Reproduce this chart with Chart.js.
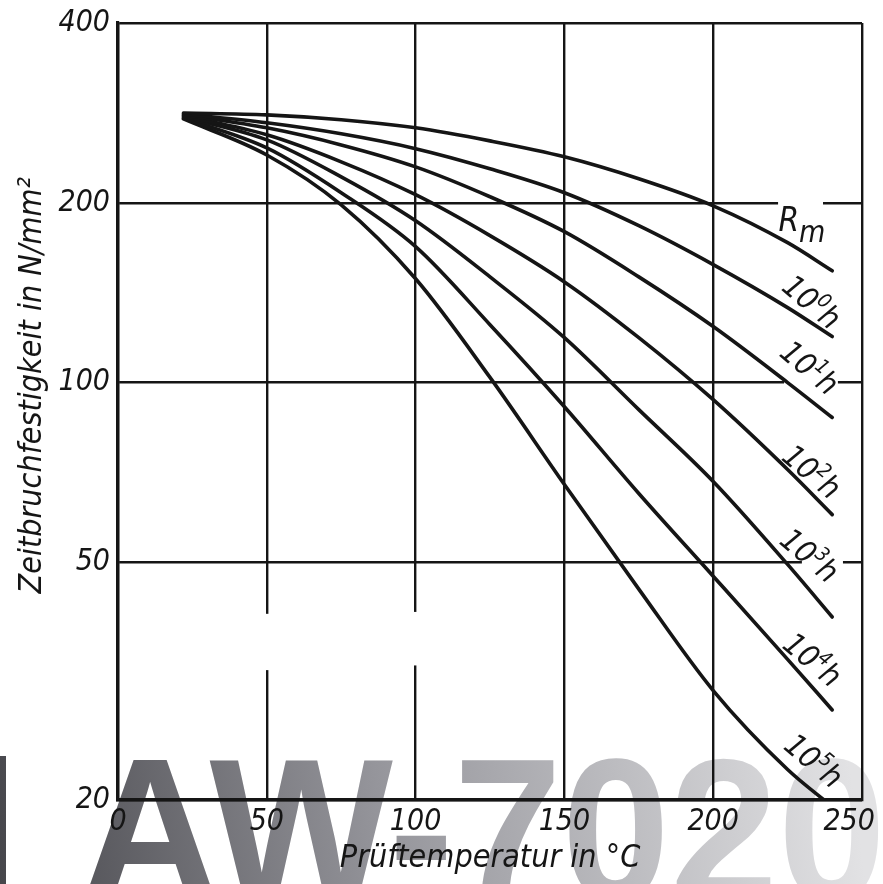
<!DOCTYPE html>
<html>
<head>
<meta charset="utf-8">
<script src="https://cdn.jsdelivr.net/npm/chart.js@4/dist/chart.umd.min.js"></script>
<style>
html,body{margin:0;padding:0;background:#fff;}
canvas{display:block;}
</style>
</head>
<body>
<canvas id="c" width="883" height="884"></canvas>
<script>
// ---- data ----
const temps = [22, 50, 75, 100, 125, 150, 175, 200, 225, 240];
const rm    = [282.8, 280.7, 275.5, 267.0, 253.9, 238.8, 219.4, 197.7, 171.5, 153.9];
const h0    = [281.7, 272.2, 260.9, 246.4, 228.0, 207.9, 183.1, 157.6, 133.5, 119.4];
const h1    = [280.6, 267.0, 250.0, 229.7, 204.7, 178.9, 150.3, 124.1, 100.0, 87.4];
const h2    = [279.5, 259.9, 234.2, 206.3, 176.2, 147.4, 118.9, 93.6, 71.5, 60.1];
const h3    = [278.4, 254.9, 221.0, 186.6, 150.3, 118.9, 90.1, 68.3, 49.6, 40.5];
const h4    = [277.3, 247.1, 207.9, 168.9, 125.0, 91.1, 65.2, 47.4, 34.4, 28.3];
const h5    = [276.3, 240.5, 198.4, 149.2, 102.0, 67.5, 45.1, 30.5, 22.5, 19.5];
const seriesNames = ['Rm', '10⁰h', '10¹h', '10²h', '10³h', '10⁴h', '10⁵h'];
const exponents = ['0', '1', '2', '3', '4', '5'];
const xTicks = [0, 50, 100, 150, 200, 250];
const yTicks = [20, 50, 100, 200, 400];
const xTitle = 'Prüftemperatur in °C';
const yTitle = 'Zeitbruchfestigkeit in N/mm²';
const watermark = 'AW-7020';

const FONT = "'Liberation Sans Narrow','DejaVu Sans Condensed','Roboto Condensed',sans-serif";
const INK = '#151515';

const allSeries = [rm, h0, h1, h2, h3, h4, h5];
const datasets = allSeries.map((vals, i) => ({
  label: seriesNames[i],
  data: temps.map((t, k) => ({x: t, y: vals[k]})),
  borderColor: INK,
  borderWidth: 3.6,
  pointRadius: 0,
  fill: false,
  cubicInterpolationMode: 'monotone',
  borderCapStyle: 'round',
  borderJoinStyle: 'round'
}));

// ---- plugins ----
const watermarkPlugin = {
  id: 'watermark',
  beforeDraw(chart) {
    const ctx = chart.ctx;
    ctx.save();
    ctx.fillStyle = '#fff';
    ctx.fillRect(0, 0, chart.width, chart.height);
    const g = ctx.createLinearGradient(0, 884, 883, 760);
    g.addColorStop(0, '#46464b');
    g.addColorStop(0.45, '#95959b');
    g.addColorStop(1, '#e2e2e4');
    ctx.fillStyle = g;
    ctx.fillRect(0, 756, 6, 130);
    ctx.font = "bold 202px 'Liberation Sans', Arial, sans-serif";
    ctx.textBaseline = 'alphabetic';
    ctx.textAlign = 'left';
    ctx.fillText(watermark, 80, 900, 806);
    ctx.restore();
  }
};

const gapPlugin = {
  id: 'gaps',
  beforeDatasetsDraw(chart) {
    const {ctx, scales: {x, y}} = chart;
    ctx.save();
    ctx.fillStyle = '#fff';
    [[50, 41, 33], [100, 41.3, 33.6]].forEach(([xv, y1, y2]) => {
      const px = x.getPixelForValue(xv);
      const p1 = y.getPixelForValue(y1), p2 = y.getPixelForValue(y2);
      ctx.fillRect(px - 4, p1, 8, p2 - p1);
    });
    [[200, 221.8, 236.9], [100, 223.8, 241.9], [50, 229.8, 243.6]].forEach(([yv, x1, x2]) => {
      const py = y.getPixelForValue(yv);
      const a = x.getPixelForValue(x1), b = x.getPixelForValue(x2);
      ctx.fillRect(a, py - 4, b - a, 8);
    });
    ctx.restore();
  }
};

const labelPlugin = {
  id: 'curveLabels',
  afterDatasetsDraw(chart) {
    const {ctx, scales: {x, y}} = chart;
    const anchors = [
      [229.8, 184.6], [233.2, 136.6], [232.5, 106], [233.2, 71],
      [232.5, 51.4], [233.5, 34.4], [233.9, 23.3]
    ];
    function drawParts(parts, cx, cy, ang) {
      ctx.save();
      ctx.translate(cx, cy);
      ctx.rotate(ang);
      let w = 0;
      parts.forEach(p => { ctx.font = 'italic ' + p.s + 'px ' + FONT; p.w = ctx.measureText(p.t).width; w += p.w; });
      let cur = -w / 2;
      ctx.fillStyle = INK;
      ctx.textBaseline = 'alphabetic';
      ctx.textAlign = 'left';
      parts.forEach(p => {
        ctx.font = 'italic ' + p.s + 'px ' + FONT;
        ctx.fillText(p.t, cur, 11 + p.dy);
        cur += p.w;
      });
      ctx.restore();
    }
    drawParts([{t: 'R', s: 33, dy: -4}, {t: 'm', s: 30, dy: 7}],
      x.getPixelForValue(anchors[0][0]), y.getPixelForValue(anchors[0][1]), 0);
    exponents.forEach((e, i) => {
      const [ax, ay] = anchors[i + 1];
      drawParts([{t: '10', s: 31, dy: 0}, {t: e, s: 20, dy: -13}, {t: 'h', s: 31, dy: 0}],
        x.getPixelForValue(ax), y.getPixelForValue(ay), 40 * Math.PI / 180);
    });
  },
  afterDraw(chart) {
    const {ctx, scales: {y}} = chart;
    ctx.save();
    ctx.translate(41, y.getPixelForValue(99));
    ctx.rotate(-Math.PI / 2);
    ctx.font = 'italic 32px ' + FONT;
    ctx.fillStyle = INK;
    ctx.textAlign = 'center';
    ctx.textBaseline = 'alphabetic';
    ctx.fillText(yTitle, 0, 0);
    ctx.restore();
  }
};

const tickFont = {family: FONT, size: 30, style: 'italic'};

new Chart(document.getElementById('c'), {
  type: 'line',
  data: {datasets},
  plugins: [watermarkPlugin, gapPlugin, labelPlugin],
  options: {
    responsive: false,
    animation: false,
    devicePixelRatio: 1,
    layout: {padding: {top: 23, right: 21, bottom: 0, left: 0}},
    plugins: {legend: {display: false}, tooltip: {enabled: false}},
    scales: {
      x: {
        type: 'linear', min: 0, max: 250,
        afterBuildTicks: s => { s.ticks = xTicks.map(v => ({value: v})); },
        afterFit: s => { s.height = 84; s.paddingLeft = 0; s.paddingRight = 0; },
        ticks: {font: tickFont, color: INK, padding: 4, maxRotation: 0, autoSkip: false,
                callback: v => (v === 250 ? String(v) + '   ' : String(v))},
        grid: {color: INK, lineWidth: 2.4, drawTicks: false},
        border: {color: INK, width: 3.2},
        title: {display: true, text: xTitle, color: INK, font: {family: FONT, size: 32, style: 'italic'}, padding: {top: 0, bottom: 6}}
      },
      y: {
        type: 'logarithmic', min: 20, max: 400,
        afterBuildTicks: s => { s.ticks = yTicks.map(v => ({value: v})); },
        afterFit: s => { s.width = 118; s.paddingTop = 0; s.paddingBottom = 0; },
        ticks: {font: tickFont, color: INK, padding: 8, callback: v => String(v)},
        grid: {color: INK, lineWidth: 2.4, drawTicks: false},
        border: {color: INK, width: 3.2},
        title: {display: false, text: yTitle}
      }
    }
  }
});
</script>
</body>
</html>
